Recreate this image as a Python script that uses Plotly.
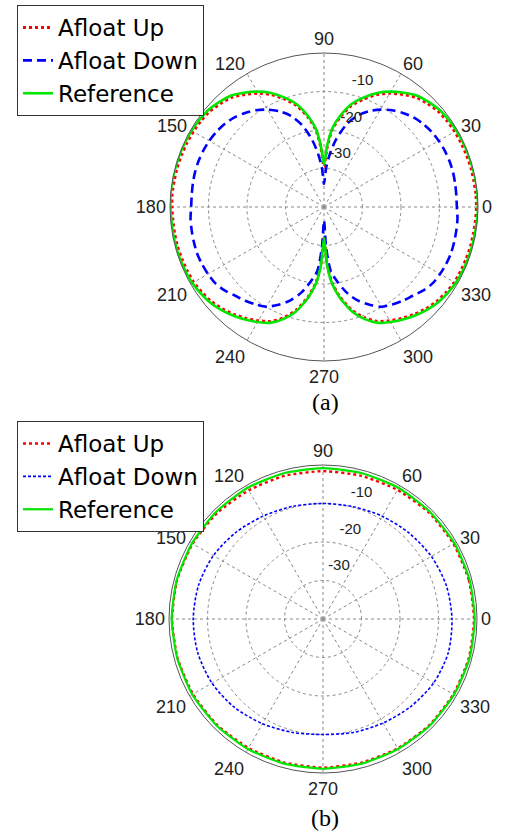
import plotly.graph_objects as go

# ---------------- (a) dipole-like pattern, gain in dB ----------------
theta_a = [0, 5, 10, 15, 20, 25, 30, 35, 40, 45, 50, 55, 60, 65, 70, 75, 80, 84, 87,
           90, 93, 96, 100, 105, 110, 115, 120, 125, 130, 135, 140, 145, 150, 155,
           160, 165, 170, 175, 180, 185, 190, 195, 200, 205, 210, 215, 220, 225,
           230, 235, 240, 245, 250, 255, 260, 264, 267, 270, 273, 276, 280, 285,
           290, 295, 300, 305, 310, 315, 320, 325, 330, 335, 340, 345, 350, 355, 360]

ref_a = [0.0, 0.0, 0.0, -0.1, -0.1, -0.2, -0.3, -0.5, -0.8, -1.5, -2.3, -3.8, -5.4,
         -7.3, -9.7, -12.3, -16.0, -19.5, -24.0,
         -29.0, -24.0, -19.5, -16.0, -12.3, -9.7, -7.3, -5.4, -3.8, -2.3, -1.5, -0.8,
         -0.5, -0.3, -0.2, -0.1, -0.1, 0.0, 0.0, -0.1, -0.2, -0.2, -0.2, -0.25,
         -0.35, -0.5, -0.9, -1.4, -2.2, -3.2, -4.3, -5.5, -6.8, -9.0, -11.9, -16.0,
         -20.0, -25.0, -32.0, -25.0, -20.0, -16.0, -11.9, -9.0, -6.8, -5.5, -4.3,
         -3.2, -2.2, -1.4, -0.9, -0.5, -0.35, -0.25, -0.2, -0.2, -0.1, 0.0]

up_a = [-0.4, -0.4, -0.5, -0.5, -0.6, -0.7, -0.8, -1.0, -1.3, -2.0, -2.8, -4.3, -5.9,
        -7.8, -10.2, -12.8, -16.4, -19.9, -24.5,
        -29.5, -24.5, -19.9, -16.4, -12.8, -10.2, -7.8, -5.9, -4.3, -2.8, -2.0, -1.3,
        -1.0, -0.8, -0.7, -0.6, -0.5, -0.5, -0.4, -0.5, -0.6, -0.6, -0.6, -0.7,
        -0.8, -0.9, -1.3, -1.8, -2.6, -3.6, -4.7, -5.9, -7.2, -9.4, -12.3, -16.3,
        -20.3, -25.4, -32.0, -25.4, -20.3, -16.3, -12.3, -9.4, -7.2, -5.9, -4.7,
        -3.6, -2.6, -1.8, -1.3, -0.9, -0.8, -0.7, -0.6, -0.6, -0.5, -0.4]

down_a = [-5.5, -5.5, -5.4, -5.3, -5.3, -5.4, -5.6, -5.9, -6.4, -7.1, -8.1, -9.3,
          -10.8, -12.6, -14.8, -18.0, -22.3, -26.5, -30.0,
          -34.0, -30.0, -26.5, -22.3, -18.0, -14.8, -12.6, -10.8, -9.3, -8.1, -7.1,
          -6.4, -5.9, -5.6, -5.4, -5.3, -5.3, -5.4, -5.5, -5.5, -5.2, -5.1, -5.0,
          -4.9, -5.0, -5.2, -5.5, -6.3, -7.4, -8.2, -9.1, -10.1, -12.0, -14.1,
          -16.9, -20.4, -23.3, -29.5, -36.5, -29.5, -23.3, -20.4, -16.9, -14.1,
          -12.0, -10.1, -9.1, -8.2, -7.4, -6.3, -5.5, -5.2, -5.0, -4.9, -5.0, -5.1,
          -5.2, -5.5]

# ---------------- (b) near-omnidirectional pattern, gain in dB ----------------
theta_b = [0, 15, 30, 45, 60, 75, 90, 105, 120, 135, 150, 165, 180, 195, 210, 225,
           240, 255, 270, 285, 300, 315, 330, 345, 360]

ref_b = [-0.6, -0.6, -0.6, -0.7, -0.7, -0.8, -0.8, -0.8, -0.7, -0.7, -0.7, -0.7,
         -0.7, -0.8, -0.8, -0.9, -1.0, -1.1, -1.1, -1.1, -1.0, -0.8, -0.7, -0.6, -0.6]

up_b = [-0.8, -0.8, -0.9, -1.0, -1.3, -1.5, -1.6, -1.5, -1.4, -1.1, -0.9, -0.8,
        -0.8, -0.9, -1.0, -1.1, -1.3, -1.4, -1.4, -1.4, -1.2, -1.0, -0.9, -0.8, -0.8]

down_b = [-6.5, -6.8, -7.5, -8.4, -9.2, -9.8, -10.0, -9.7, -9.1, -8.1, -7.1, -6.5,
          -6.3, -6.3, -6.7, -7.5, -8.6, -9.5, -10.0, -9.5, -8.8, -7.8, -6.8, -6.3, -6.5]

# Radial rings (dB) and angular ticks (deg)
ring_vals = [-30, -20, -10, 0]
ang_ticks = [0, 30, 60, 90, 120, 150, 180, 210, 240, 270, 300, 330]

SANS = "Liberation Sans, Arial, sans-serif"
LEGEND_FONT = "DejaVu Sans, Liberation Sans, sans-serif"
SERIF = "Liberation Serif, Times New Roman, serif"

fig = go.Figure()


def add_pattern(theta, up, down, ref, subplot, legend, widths, down_dash):
    w_up, w_down, w_ref = widths
    fig.add_trace(go.Scatterpolar(
        r=up, theta=theta, mode="lines", name="Afloat Up",
        line=dict(color="#ff0000", width=w_up, dash="dot", shape="spline", smoothing=0.6),
        subplot=subplot, legend=legend))
    fig.add_trace(go.Scatterpolar(
        r=down, theta=theta, mode="lines", name="Afloat Down",
        line=dict(color="#0000ff", width=w_down, dash=down_dash,
                  shape="spline", smoothing=0.8),
        subplot=subplot, legend=legend))
    fig.add_trace(go.Scatterpolar(
        r=ref, theta=theta, mode="lines", name="Reference",
        line=dict(color="#00e600", width=w_ref, shape="spline", smoothing=0.6),
        subplot=subplot, legend=legend))
    # radial scale labels placed just beyond each ring
    fig.add_trace(go.Scatterpolar(
        r=[v + 4.2 for v in ring_vals], theta=[73] * len(ring_vals), mode="text",
        text=[str(v) for v in ring_vals],
        textfont=dict(family=SANS, size=15, color="#222"),
        showlegend=False, cliponaxis=False, hoverinfo="skip", subplot=subplot))


add_pattern(theta_a, up_a, down_a, ref_a, "polar", "legend", (3, 2.6, 2.6), "9px,5px")
add_pattern(theta_b, up_b, down_b, ref_b, "polar2", "legend2", (2.4, 1.6, 2.2), "3px,2px")

W, H = 507, 831
R = 154


def polar_cfg(cx, cy):
    return dict(
        domain=dict(x=[(cx - R) / W, (cx + R) / W],
                    y=[(H - cy - R) / H, (H - cy + R) / H]),
        bgcolor="white",
        angularaxis=dict(
            rotation=0, direction="counterclockwise",
            tickmode="array", tickvals=ang_ticks, ticktext=[str(t) for t in ang_ticks],
            showline=True, linecolor="#555", linewidth=1,
            showgrid=True, gridcolor="#888", griddash="dot", gridwidth=1,
            ticks="", tickfont=dict(family=SANS, size=18, color="#222")),
        radialaxis=dict(
            range=[-40, 0], tickmode="array", tickvals=[-30, -20, -10],
            showticklabels=False, showline=False, ticks="",
            showgrid=True, gridcolor="#888", griddash="dot", gridwidth=1),
    )


def legend_cfg(top_px):
    return dict(
        x=17 / W, y=1 - top_px / H, xanchor="left", yanchor="top",
        bgcolor="white", bordercolor="#333", borderwidth=1,
        font=dict(family=LEGEND_FONT, size=23, color="black"),
        tracegroupgap=0, itemwidth=30)


fig.update_layout(
    width=W, height=H, margin=dict(l=0, r=0, t=0, b=0),
    paper_bgcolor="white", showlegend=True,
    polar=polar_cfg(324, 207),
    polar2=polar_cfg(323, 619),
    legend=legend_cfg(5),
    legend2=legend_cfg(421),
    annotations=[
        dict(text="(a)", x=325 / W, y=1 - 402 / H, xref="paper", yref="paper",
             xanchor="center", yanchor="middle", showarrow=False,
             font=dict(family=SERIF, size=24, color="black")),
        dict(text="(b)", x=325 / W, y=1 - 818 / H, xref="paper", yref="paper",
             xanchor="center", yanchor="middle", showarrow=False,
             font=dict(family=SERIF, size=24, color="black")),
    ],
)

fig.write_html("out.html")
